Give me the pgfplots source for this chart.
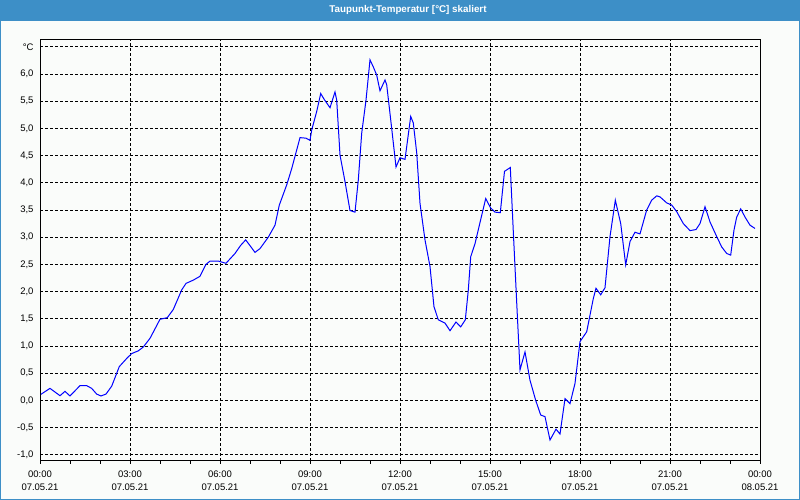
\documentclass[border=0pt]{standalone}
\usepackage{fontspec}
\setmainfont{Liberation Sans}
\usepackage{pgfplots}
\pgfplotsset{compat=1.18}
\definecolor{barblue}{HTML}{3D8FC7}
\definecolor{bgwhite}{HTML}{FAFCFA}

% Taupunkt, Stunden ab 07.05.21 00:00
\pgfplotstableread{
t v
0.03 0.11
0.333 0.22
0.667 0.085
0.833 0.165
1.0 0.08
1.333 0.27
1.556 0.27
1.722 0.22
1.889 0.115
2.033 0.08
2.2 0.115
2.39 0.26
2.643 0.62
2.89 0.77
3.057 0.86
3.277 0.91
3.443 0.98
3.667 1.14
4.0 1.49
4.243 1.52
4.443 1.67
4.723 2.03
4.867 2.15
5.11 2.21
5.333 2.28
5.533 2.5
5.667 2.56
5.943 2.56
6.2 2.52
6.5 2.70
6.69 2.85
6.857 2.95
7.167 2.72
7.333 2.79
7.61 3.0
7.833 3.22
7.977 3.59
8.223 3.96
8.39 4.26
8.667 4.83
8.867 4.82
9.0 4.78
9.057 4.97
9.223 5.31
9.357 5.64
9.477 5.53
9.667 5.38
9.833 5.67
9.89 5.52
10.0 4.51
10.167 4.02
10.333 3.49
10.5 3.46
10.61 4.05
10.723 4.91
10.867 5.52
11.0 6.26
11.11 6.13
11.223 5.98
11.333 5.69
11.5 5.89
11.557 5.80
11.723 5.00
11.867 4.29
12.0 4.46
12.167 4.43
12.357 5.22
12.443 5.10
12.557 4.55
12.667 3.62
12.833 2.95
13.0 2.46
13.133 1.72
13.277 1.48
13.5 1.42
13.667 1.28
13.867 1.44
14.023 1.35
14.177 1.48
14.277 2.03
14.357 2.64
14.5 2.88
14.667 3.27
14.857 3.71
15.017 3.54
15.167 3.46
15.343 3.45
15.483 4.21
15.677 4.28
15.777 3.1
15.89 1.8
16.0 0.56
16.167 0.89
16.333 0.37
16.523 0.0
16.69 -0.27
16.833 -0.30
17.0 -0.73
17.2 -0.53
17.333 -0.62
17.5 0.03
17.667 -0.06
17.833 0.31
18.0 1.08
18.223 1.26
18.443 1.87
18.533 2.06
18.69 1.94
18.833 2.07
19.0 3.01
19.177 3.68
19.357 3.25
19.523 2.49
19.667 2.92
19.833 3.09
20.0 3.06
20.223 3.50
20.39 3.68
20.557 3.76
20.667 3.74
20.89 3.63
21.057 3.59
21.223 3.47
21.443 3.25
21.667 3.12
21.867 3.14
22.0 3.25
22.167 3.56
22.333 3.28
22.557 3.01
22.723 2.82
22.89 2.70
23.023 2.67
23.133 3.13
23.223 3.37
23.357 3.52
23.5 3.37
23.667 3.22
23.833 3.16
}\dewpoint

\begin{document}
\begin{tikzpicture}
\fill[bgwhite] (0pt,0pt) rectangle (800pt,500pt);
\fill[barblue] (0pt,479.3pt) rectangle (800pt,500pt);
\draw[barblue, line width=1pt] (0.5pt,0.5pt) rectangle (799.5pt,499.5pt);
\node[text=white, font=\bfseries\fontsize{9.8}{11}\selectfont] at (408pt,489.7pt) {Taupunkt-Temperatur [°C] skaliert};

\begin{axis}[
    at={(40pt,39.3pt)}, anchor=south west,
    scale only axis,
    width=720pt, height=420.7pt,
    xmin=0, xmax=24,
    ymin=-1.11, ymax=6.625,
    axis line style={black, line width=1pt},
    xtick={0,3,...,24},
    minor xtick={1,2,4,5,7,8,10,11,13,14,16,17,19,20,22,23},
    xticklabels={{00:00\\07.05.21},{03:00\\07.05.21},{06:00\\07.05.21},{09:00\\07.05.21},{12:00\\07.05.21},{15:00\\07.05.21},{18:00\\07.05.21},{21:00\\07.05.21},{00:00\\08.05.21}},
    ytick={-1,-0.5,0,0.5,1,1.5,2,2.5,3,3.5,4,4.5,5,5.5,6,6.5},
    yticklabels={{-1,0},{-0,5},{0,0},{0,5},{1,0},{1,5},{2,0},{2,5},{3,0},{3,5},{4,0},{4,5},{5,0},{5,5},{6,0},°C},
    xtick pos=bottom, ytick pos=left,
    tick align=outside,
    major tick length=3pt, minor tick length=3pt,
    x tick style={black, line width=0.8pt},
    ytick style={draw=none},
    xmajorgrids, ymajorgrids,
    major grid style={black, line width=0.8pt, dash pattern=on 3pt off 2pt},
    xticklabel style={align=center, font=\fontsize{9.5}{12.5}\selectfont, yshift=-4pt},
    yticklabel style={font=\fontsize{9.5}{11}\selectfont},
]
\addplot[blue, line width=1pt] table[x=t, y=v] {\dewpoint};
\end{axis}
\end{tikzpicture}
\end{document}
